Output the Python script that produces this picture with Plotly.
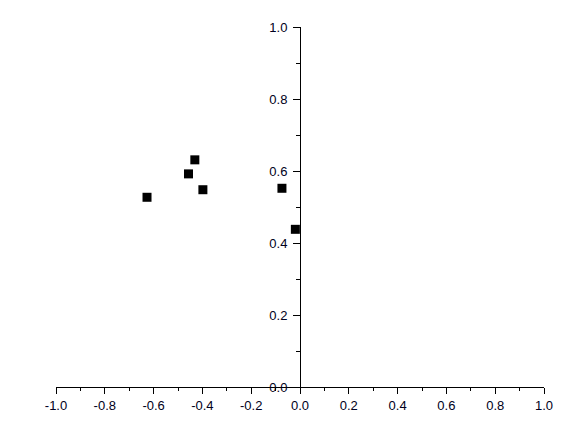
import plotly.graph_objects as go

x_vals = [-0.627, -0.431, -0.457, -0.398, -0.074, -0.019]
y_vals = [0.527, 0.631, 0.592, 0.548, 0.552, 0.438]

x_tickvals = [-1.0, -0.8, -0.6, -0.4, -0.2, 0.0, 0.2, 0.4, 0.6, 0.8, 1.0]
x_ticktext = ["-1.0", "-0.8", "-0.6", "-0.4", "-0.2", "0.0", "0.2", "0.4", "0.6", "0.8", "1.0"]
y_tickvals = [0.0, 0.2, 0.4, 0.6, 0.8, 1.0]
y_ticktext = ["0.0", "0.2", "0.4", "0.6", "0.8", "1.0"]

fig = go.Figure()
fig.add_trace(go.Scatter(
    x=x_vals, y=y_vals, mode="markers",
    marker=dict(symbol="square", size=9, color="black", line=dict(width=0)),
    showlegend=False,
))

tickfont = dict(family="Liberation Sans, Arial, sans-serif", size=13, color="#000020")

fig.update_layout(
    width=575, height=439,
    margin=dict(l=48, r=39, t=17, b=60),
    paper_bgcolor="white", plot_bgcolor="white",
    xaxis=dict(
        range=[-1, 1], tickmode="array", tickvals=x_tickvals, ticktext=x_ticktext,
        showgrid=False, zeroline=False,
        showline=True, linecolor="black", linewidth=1,
        ticks="outside", ticklen=6, tickcolor="black", tickwidth=1,
        minor=dict(ticks="outside", ticklen=3, tick0=-1, dtick=0.1, tickcolor="black", showgrid=False),
        tickfont=tickfont,
    ),
    yaxis=dict(
        range=[0, 1], tickmode="array", tickvals=y_tickvals, ticktext=y_ticktext,
        showgrid=False, zeroline=False,
        showline=True, linecolor="black", linewidth=1,
        anchor="free", position=0.5,
        ticks="outside", ticklen=7, tickcolor="black", tickwidth=1,
        ticklabelstandoff=3,
        minor=dict(ticks="outside", ticklen=4, tick0=0, dtick=0.1, tickcolor="black", showgrid=False),
        tickfont=tickfont,
    ),
)

fig.write_html("out.html")
